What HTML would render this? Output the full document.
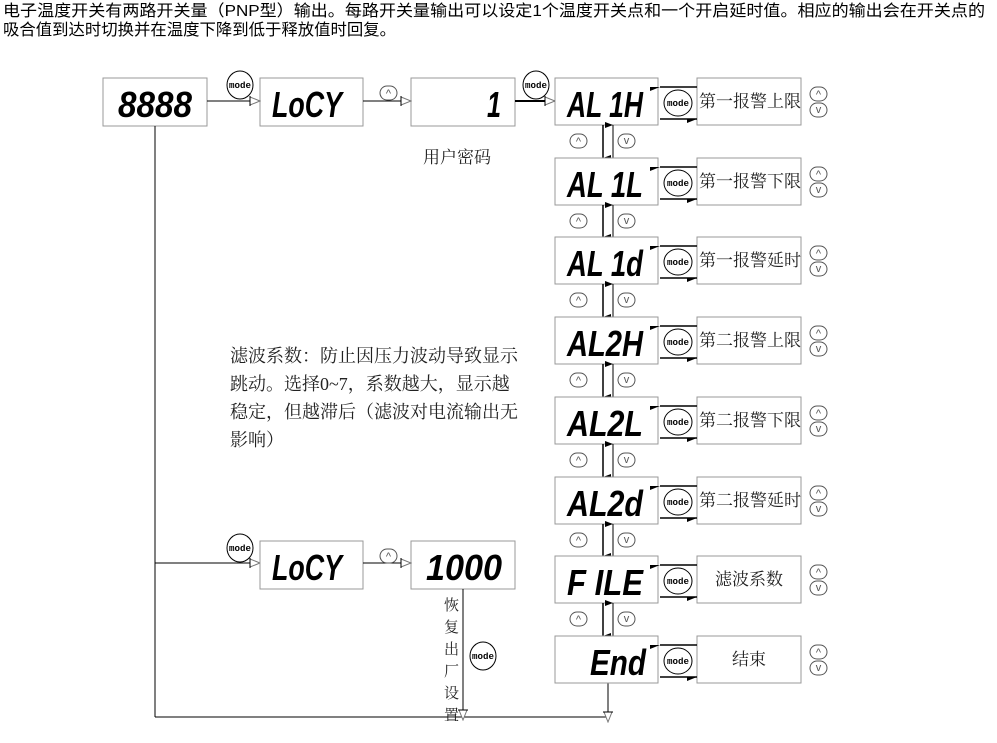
<!DOCTYPE html>
<html><head><meta charset="utf-8"><style>
html,body{margin:0;padding:0;background:#fff;width:997px;height:743px;overflow:hidden}
svg{display:block}
.t{font-family:"Liberation Sans","Noto Sans CJK SC",sans-serif;font-size:16px;fill:#000}
.s{font-family:"Liberation Serif","Noto Serif CJK SC",serif;fill:#222}
.d{font-family:"Liberation Sans",sans-serif;font-weight:bold;font-style:italic;font-size:36px;fill:#000}
.m{font-family:"Liberation Mono",monospace;font-size:9px;font-weight:bold;fill:#000}
.k{font-family:"Liberation Sans",sans-serif;font-size:11px;fill:#555}
rect.b{fill:#fff;stroke:#999;stroke-width:1}
line{stroke:#000;stroke-width:1}
</style></head><body>
<svg width="997" height="743" viewBox="0 0 997 743">
<defs>
<marker id="oa" markerWidth="12" markerHeight="10" refX="11" refY="5" orient="auto" markerUnits="userSpaceOnUse"><path d="M1,1 L11,5 L1,9 Z" fill="#fff" stroke="#777"/><line x1="1" y1="0" x2="1" y2="10" stroke="#000"/></marker>
<marker id="fl" markerWidth="10" markerHeight="8" refX="0" refY="4" orient="auto" markerUnits="userSpaceOnUse"><path d="M0,4 L10,0 L10,4 Z" fill="#000"/></marker>
<marker id="fr" markerWidth="10" markerHeight="8" refX="10" refY="4" orient="auto" markerUnits="userSpaceOnUse"><path d="M10,4 L0,8 L0,4 Z" fill="#000"/></marker>
<marker id="sd" markerWidth="8" markerHeight="8" refX="4" refY="8" orient="auto-start-reverse" markerUnits="userSpaceOnUse"><path d="M4,8 L1,0 L7,0 Z" fill="#000"/></marker>
</defs>
<text class="t" x="3" y="16" textLength="982" lengthAdjust="spacingAndGlyphs">电子温度开关有两路开关量（PNP型）输出。每路开关量输出可以设定1个温度开关点和一个开启延时值。相应的输出会在开关点的</text>
<text class="t" x="3" y="35" textLength="393" lengthAdjust="spacingAndGlyphs">吸合值到达时切换并在温度下降到低于释放值时回复。</text>

<rect class="b" x="103" y="78" width="104" height="48"/>
<text class="d" x="118" y="117" textLength="74" lengthAdjust="spacingAndGlyphs">8888</text>
<rect class="b" x="260" y="78" width="103" height="48"/>
<text class="d" x="272" y="117" textLength="70" lengthAdjust="spacingAndGlyphs">LoCY</text>
<rect class="b" x="411" y="78" width="104" height="48"/>
<text class="d" x="487" y="117" textLength="14" lengthAdjust="spacingAndGlyphs">1</text>
<line x1="207" y1="101" x2="260" y2="101" marker-end="url(#oa)"/>
<line x1="363" y1="101" x2="411" y2="101" marker-end="url(#oa)"/>
<line x1="515" y1="101" x2="555" y2="101" marker-end="url(#oa)" style="stroke-width:2"/>
<ellipse cx="240" cy="85" rx="13" ry="14" fill="#fff" stroke="#000"/><text class="m" x="240" y="88" text-anchor="middle" textLength="22" lengthAdjust="spacingAndGlyphs">mode</text>
<ellipse cx="536" cy="85" rx="13" ry="14" fill="#fff" stroke="#000"/><text class="m" x="536" y="88" text-anchor="middle" textLength="22" lengthAdjust="spacingAndGlyphs">mode</text>
<rect x="380" y="86" width="17" height="14" rx="7" fill="#fff" stroke="#555"/><text class="k" x="388.5" y="97" text-anchor="middle">^</text>
<text class="s" x="423" y="163" font-size="17">用户密码</text>

<line x1="155" y1="126" x2="155" y2="717"/>
<line x1="155" y1="717" x2="608" y2="717"/>
<line x1="155" y1="563" x2="260" y2="563" marker-end="url(#oa)"/>

<rect class="b" x="260" y="541" width="103" height="48"/>
<text class="d" x="272" y="580" textLength="70" lengthAdjust="spacingAndGlyphs">LoCY</text>
<rect class="b" x="411" y="541" width="104" height="48"/>
<text class="d" x="426" y="580" textLength="76" lengthAdjust="spacingAndGlyphs">1000</text>
<line x1="363" y1="563" x2="411" y2="563" marker-end="url(#oa)"/>
<ellipse cx="240" cy="548" rx="13" ry="14" fill="#fff" stroke="#000"/><text class="m" x="240" y="551" text-anchor="middle" textLength="22" lengthAdjust="spacingAndGlyphs">mode</text>
<rect x="380" y="549" width="17" height="14" rx="7" fill="#fff" stroke="#555"/><text class="k" x="388.5" y="560" text-anchor="middle">^</text>
<line x1="463" y1="589" x2="463" y2="720" marker-end="url(#oa)"/>
<g class="s" font-size="15"><text x="444" y="610">恢</text><text x="444" y="632">复</text><text x="444" y="654">出</text><text x="444" y="676">厂</text><text x="444" y="698">设</text><text x="444" y="720">置</text></g>
<ellipse cx="483" cy="656" rx="13" ry="14" fill="#fff" stroke="#000"/><text class="m" x="483" y="659" text-anchor="middle" textLength="22" lengthAdjust="spacingAndGlyphs">mode</text>
<line x1="608" y1="683" x2="608" y2="722" marker-end="url(#oa)"/>

<g class="s" font-size="18"><text x="230" y="362">滤波系数：防止因压力波动导致显示</text><text x="230" y="390">跳动。选择0~7，系数越大，显示越</text><text x="230" y="418">稳定，但越滞后（滤波对电流输出无</text><text x="230" y="446">影响）</text></g>

<g id="rows"></g>
</svg>
<script>
var rows=[["AL 1H","第一报警上限"],["AL 1L","第一报警下限"],["AL 1d","第一报警延时"],["AL2H","第二报警上限"],["AL2L","第二报警下限"],["AL2d","第二报警延时"],["F ILE","滤波系数"],["End","结束"]];
var ns="http://www.w3.org/2000/svg",g=document.getElementById("rows"),h="";
rows.forEach(function(r,i){var T=Math.round(78+79.7*i);
h+='<rect class="b" x="555" y="'+T+'" width="103" height="47"/>';
var w=r[0]=="End"?56:76, x0=r[0]=="End"?590:567;
h+='<text class="d" x="'+x0+'" y="'+(T+39)+'" textLength="'+w+'" lengthAdjust="spacingAndGlyphs" xml:space="preserve">'+r[0]+'</text>';
h+='<rect class="b" x="697" y="'+T+'" width="104" height="47"/>';
var c=r[1].length;
h+='<text class="s" font-size="17" x="'+(c==6?699:749)+'" y="'+(T+29)+'"'+(c==6?'':' text-anchor="middle"')+'>'+r[1]+'</text>';
h+='<line x1="697" y1="'+(T+9)+'" x2="660" y2="'+(T+9)+'" marker-end="url(#fl)" style="stroke-width:1.5"/>';
h+='<line x1="660" y1="'+(T+41)+'" x2="697" y2="'+(T+41)+'" marker-end="url(#fr)" style="stroke-width:1.5"/>';
h+='<ellipse cx="678" cy="'+(T+25)+'" rx="14" ry="13" fill="#fff" stroke="#000"/><text class="m" x="678" y="'+(T+28)+'" text-anchor="middle" textLength="22" lengthAdjust="spacingAndGlyphs">mode</text>';
h+='<rect x="810" y="'+(T+9)+'" width="17" height="14" rx="7" fill="#fff" stroke="#555"/><text class="k" x="818.5" y="'+(T+20)+'" text-anchor="middle">^</text>';
h+='<rect x="810" y="'+(T+25)+'" width="17" height="14" rx="7" fill="#fff" stroke="#555"/><text class="k" x="818.5" y="'+(T+35)+'" text-anchor="middle">v</text>';
if(i<7){var B=T+47,N=Math.round(78+79.7*(i+1));
h+='<line x1="603" y1="'+B+'" x2="603" y2="'+N+'" marker-end="url(#sd)" style="stroke-width:1.5"/>';
h+='<line x1="613" y1="'+N+'" x2="613" y2="'+B+'" marker-end="url(#sd)"/>';
h+='<rect x="570" y="'+(B+9)+'" width="17" height="14" rx="7" fill="#fff" stroke="#555"/><text class="k" x="578.5" y="'+(B+20)+'" text-anchor="middle">^</text>';
h+='<rect x="618" y="'+(B+9)+'" width="17" height="14" rx="7" fill="#fff" stroke="#555"/><text class="k" x="626.5" y="'+(B+19)+'" text-anchor="middle">v</text>';}
});
var tmp=new DOMParser().parseFromString('<svg xmlns="'+ns+'">'+h+'</svg>','image/svg+xml');
Array.prototype.slice.call(tmp.documentElement.childNodes).forEach(function(n){g.appendChild(document.importNode(n,true));});
</script>
</body></html>
